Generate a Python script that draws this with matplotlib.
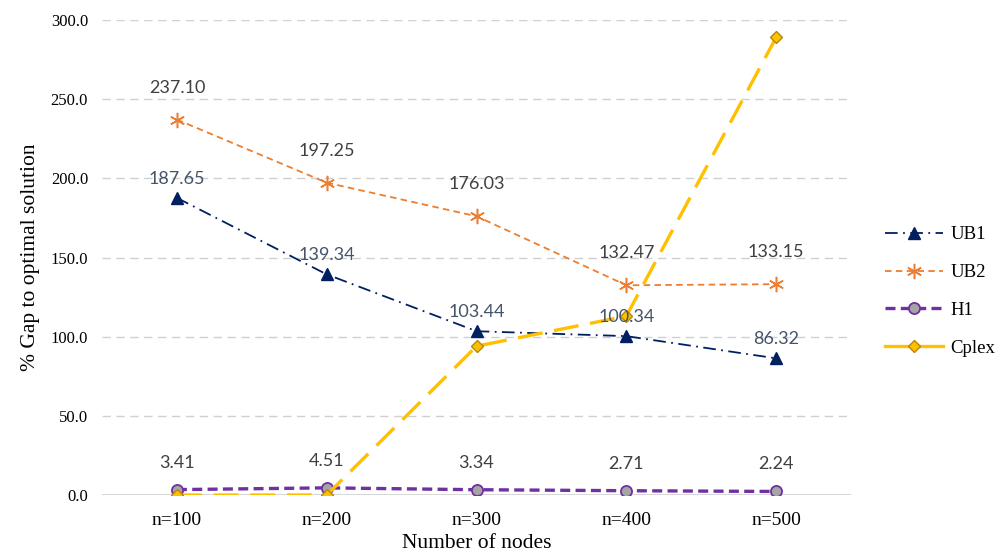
import matplotlib
matplotlib.use("Agg")
import matplotlib.pyplot as plt
from matplotlib.lines import Line2D
import numpy as np

# data
nodes = ["n=100", "n=200", "n=300", "n=400", "n=500"]
ub1 = [187.65, 139.34, 103.44, 100.34, 86.32]
ub2 = [237.10, 197.25, 176.03, 132.47, 133.15]
h1 = [3.41, 4.51, 3.34, 2.71, 2.24]
cplex = [0.0, 0.0, 94.0, 113.0, 289.0]
yticks = [0, 50, 100, 150, 200, 250, 300]

SERIF = "Liberation Serif"
LABEL_FONT = "Lato"

fig = plt.figure(figsize=(10.03, 5.57), dpi=100)
ax = fig.add_axes([0.1017, 0.1113, 0.7468, 0.8528])
x = np.arange(len(nodes))

# gridlines and the solid zero line
for v in yticks[1:]:
    ax.axhline(v, color="#D0D0D0", lw=1.0, ls=(0, (6, 4)), zorder=0)
ax.axhline(0, color="#D0D0D0", lw=1.2, zorder=0)

navy = "#002060"
orange = "#ED7D31"
purple = "#7030A0"
gold = "#FFC000"

style_ub1 = dict(color=navy, lw=1.3, ls=(0, (7, 3, 1, 3)),
                 marker="^", ms=9, mfc=navy, mec=navy)
style_ub2 = dict(color=orange, lw=1.3, ls=(0, (3.6, 2.4)),
                 marker=(6, 2, 0), ms=11, mec=orange, mew=1.1)
style_h1 = dict(color=purple, lw=2.4, ls=(0, (3.0, 1.6)),
                marker="o", ms=8, mfc="#A5A5A5", mec=purple, mew=1.3)
style_cplex = dict(color=gold, lw=2.4, ls=(0, (7.5, 3.5)),
                   marker="D", ms=6.5, mfc=gold, mec="#B8860B", mew=1.0)

ax.plot(x, ub2, zorder=3, **style_ub2)
ax.plot(x, ub1, zorder=3, **style_ub1)
ax.plot(x, h1, zorder=3, **style_h1)
ax.plot(x, cplex, zorder=4, **style_cplex)

# value labels above the points
def put_labels(vals, offset, color):
    for xi, v in zip(x, vals):
        ax.annotate(f"{v:.2f}", (xi, v), xytext=(0, offset),
                    textcoords="offset pixels", ha="center", va="center",
                    fontsize=13, family=LABEL_FONT, color=color, zorder=6)

put_labels(ub2, 32, "#404040")
put_labels(ub1, 19, "#44546A")
put_labels(h1, 27, "#404040")

ax.set_xlim(-0.5, len(nodes) - 0.5)
ax.set_ylim(0, 300)
ax.set_yticks(yticks)
ax.set_yticklabels([f"{v:.1f}" for v in yticks], family=SERIF, fontsize=12)
ax.set_xticks(x)
ax.set_xticklabels(nodes, family=SERIF, fontsize=14)
ax.tick_params(axis="y", length=0, pad=10)
ax.tick_params(axis="x", length=0, pad=12)
for s in ax.spines.values():
    s.set_visible(False)

ax.set_ylabel("% Gap to optimal solution", family=SERIF, fontsize=15.5, labelpad=8)
ax.set_xlabel("Number of nodes", family=SERIF, fontsize=15.5, labelpad=4)

# legend; Cplex is drawn solid in the key
handles = [
    Line2D([], [], **style_ub1),
    Line2D([], [], **style_ub2),
    Line2D([], [], **style_h1),
    Line2D([], [], **{**style_cplex, "ls": "-"}),
]
fig.legend(handles, ["UB1", "UB2", "H1", "Cplex"], loc="center left",
           bbox_to_anchor=(0.882, 0.4767), frameon=False, borderpad=0,
           borderaxespad=0, handlelength=3.1, handletextpad=0.4,
           labelspacing=1.1, prop={"family": SERIF, "size": 13.5})

fig.savefig("out.png", dpi=100)
